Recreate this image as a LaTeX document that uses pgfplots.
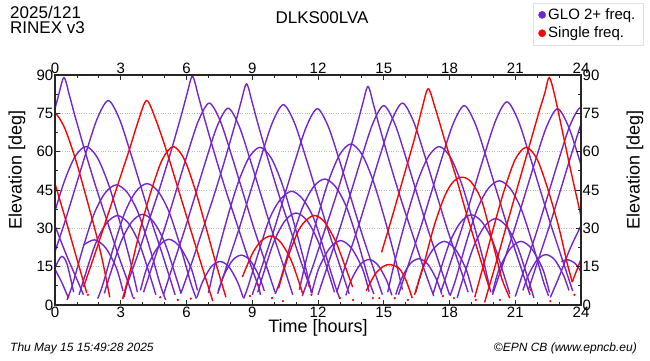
\documentclass[border=0pt]{standalone}
\usepackage{fontspec}
\setmainfont{Liberation Sans}
\usepackage{pgfplots}
\pgfplotsset{compat=1.18}
\definecolor{glo}{RGB}{114,38,205}
\definecolor{sng}{RGB}{255,0,0}
\pgfplotsset{
  gl/.style={color=glo, line width=1.4pt, smooth, forget plot},
  rd/.style={color=sng, line width=1.4pt, smooth, forget plot},
  frame/.style={at={(55pt,55pt)}, anchor=south west, width=526pt, height=230pt, scale only axis,
    xmin=0, xmax=24, ymin=0, ymax=90,
    xtick={0,3,...,24}, ytick={0,15,...,90}, minor x tick num=2, minor y tick num=1,
    tick align=inside, major tick length=5pt, minor tick length=3pt,
    axis line style={line width=1.1pt, black!85},
    tick style={line width=0.8pt, black!85},
    tick label style={font=\fontsize{15}{15}\selectfont},
    /pgf/number format/assume math mode=true,
    xticklabel style={inner sep=1.5pt}, yticklabel style={inner sep=1.5pt}}
}
\begin{document}
\begin{tikzpicture}[x=1pt,y=1pt]
\path[use as bounding box] (0,0) rectangle (650,360);
\begin{axis}[frame, ymajorgrids, grid style={dotted, gray!55, line width=0.8pt},
  legend style={at={(axis description cs:1.118,1.313)}, anchor=north east, draw=black!12, fill=white,
    font=\fontsize{15}{16}\selectfont, inner xsep=5pt, inner ysep=3pt, row sep=1pt,
    nodes={inner sep=2.5pt}},
  legend cell align=left]
\addlegendimage{only marks, mark=*, mark size=3.6pt, glo}
\addlegendentry{GLO 2+ freq.}
\addlegendimage{only marks, mark=*, mark size=3.6pt, sng}
\addlegendentry{Single freq.}
% ---------- GLO 2+ frequency passes ----------
\addplot[gl] coordinates {(-0.59,59) (-0.09,74) (0.16,82) (0.41,89) (0.66,82) (0.91,74) (1.41,59) (1.91,45) (2.41,32) (2.91,19) (3.41,7) (3.55,3)};
\addplot[gl] coordinates {(-0.94,5) (-0.59,18) (-0.09,34) (0.41,48) (0.91,58) (1.41,62) (1.91,58) (2.41,48) (2.91,34) (3.41,18) (3.76,5)};
\addplot[gl] coordinates {(-0.62,4) (-0.07,19) (0.43,32) (0.93,46) (1.43,60) (1.93,73) (2.43,80) (2.93,73) (3.43,60) (3.93,46) (4.43,32) (4.93,19) (5.48,4)};
\addplot[gl] coordinates {(0.55,2) (0.8,8) (1.3,23) (1.8,36) (2.3,44) (2.8,47) (3.3,44) (3.8,36) (4.3,23) (4.8,8) (5.05,2)};
\addplot[gl] coordinates {(1.1,4) (1.35,11) (1.85,24) (2.35,32) (2.85,35) (3.35,32) (3.85,24) (4.35,11) (4.6,4)};
\addplot[gl] coordinates {(1.3,23.5) (1.8,25.5) (2.3,22.5) (2.8,14.5) (3.1,5.5)};
\addplot[gl] coordinates {(-0.2,8) (0,14.5) (0.3,19) (0.55,16) (0.85,5)};
\addplot[gl] coordinates {(-0.2,18) (0,14) (0.3,9) (0.6,3)};
\addplot[gl] coordinates {(-0.3,38) (0,31) (0.5,20) (1.0,10) (1.3,4)};
\addplot[gl] coordinates {(1.95,2.5) (2.2,8.5) (2.7,23.5) (3.2,36.5) (3.7,44.5) (4.2,47.5) (4.7,44.5) (5.2,36.5) (5.7,23.5) (6.2,8.5) (6.45,2.5)};
\addplot[gl] coordinates {(2.25,4.5) (2.5,11.5) (3.0,24.5) (3.5,32.5) (4.0,35.5) (4.5,32.5) (5.0,24.5) (5.5,11.5) (5.75,4.5)};
\addplot[gl] coordinates {(3.9,5.7) (4.2,14.7) (4.7,22.7) (5.2,25.7) (5.7,22.7) (6.2,14.7) (6.5,5.7)};
\addplot[gl] coordinates {(3.17,3) (3.27,7.5) (3.77,19.5) (4.27,32.5) (4.77,45.5) (5.27,59.5) (5.77,74.5) (6.02,82.5) (6.27,89.5) (6.52,82.5) (6.77,74.5) (7.27,59.5) (7.77,45.5) (8.27,32.5) (8.77,19.5) (9.27,7.5) (9.37,4)};
\addplot[gl] coordinates {(4.04,5) (4.54,18) (5.04,31) (5.54,45) (6.04,59) (6.54,72) (7.04,79) (7.54,72) (8.04,59) (8.54,45) (9.04,31) (9.54,18) (10.04,5)};
\addplot[gl] coordinates {(4.95,4) (5.4,16) (5.9,29) (6.4,43) (6.9,57) (7.4,70) (7.9,77) (8.4,70) (8.9,57) (9.4,43) (9.9,29) (10.4,16) (10.85,4)};
\addplot[gl] coordinates {(6.48,3) (6.73,9) (7.13,15) (7.53,17) (7.93,15) (8.33,9) (8.58,3)};
\addplot[gl] coordinates {(5.74,4.5) (6.24,16.5) (6.74,29.5) (7.24,42.5) (7.74,56.5) (8.24,71.5) (8.49,79.5) (8.74,86.5) (8.99,79.5) (9.24,71.5) (9.74,56.5) (10.24,42.5) (10.74,29.5) (11.24,16.5) (11.74,4.5)};
\addplot[gl] coordinates {(7.42,4.4) (7.92,17.4) (8.42,30.4) (8.92,44.4) (9.42,58.4) (9.92,71.4) (10.42,78.4) (10.92,71.4) (11.42,58.4) (11.92,44.4) (12.42,30.4) (12.92,17.4) (13.42,4.4)};
\addplot[gl] coordinates {(9.0,4) (9.47,15.8) (9.97,28.8) (10.47,42.8) (10.97,56.8) (11.47,69.8) (11.97,76.8) (12.47,69.8) (12.97,56.8) (13.47,42.8) (13.97,28.8) (14.47,15.8) (14.94,4)};
\addplot[gl] coordinates {(7.0,4.7) (7.35,17.7) (7.85,33.7) (8.35,47.7) (8.85,57.7) (9.35,61.7) (9.85,57.7) (10.35,47.7) (10.85,33.7) (11.35,17.7) (11.7,4.7)};
\addplot[gl] coordinates {(8.6,2.5) (8.8,7) (9.3,21) (9.8,34) (10.3,41.5) (10.8,44.5) (11.3,41.5) (11.8,34) (12.3,21) (12.8,7) (13.0,2.5)};
\addplot[gl] coordinates {(9.25,5) (9.5,12) (10.0,25) (10.5,33) (11.0,36) (11.5,33) (12.0,25) (12.5,12) (12.75,5)};
\addplot[gl] coordinates {(7.45,5.5) (7.7,11.5) (8.1,17.5) (8.5,19.5) (8.9,17.5) (9.3,11.5) (9.55,5.5)};
\addplot[gl] coordinates {(10.05,4.3) (10.3,10.3) (10.8,25.3) (11.3,38.3) (11.8,46.3) (12.3,49.3) (12.8,46.3) (13.3,38.3) (13.8,25.3) (14.3,10.3) (14.55,4.3)};
\addplot[gl] coordinates {(11.15,6) (11.5,19) (12.0,35) (12.5,49) (13.0,59) (13.5,63) (14.0,59) (14.5,49) (15.0,35) (15.5,19) (15.85,6)};
\addplot[gl] coordinates {(11.73,5.2) (12.03,14.2) (12.53,22.2) (13.03,25.2) (13.53,22.2) (14.03,14.2) (14.33,5.2)};
\addplot[gl] coordinates {(11.28,3.5) (11.78,15.5) (12.28,28.5) (12.78,41.5) (13.28,55.5) (13.78,70.5) (14.03,78.5) (14.28,85.5) (14.53,78.5) (14.78,70.5) (15.28,55.5) (15.78,41.5) (16.28,28.5) (16.78,15.5) (17.28,3.5)};
\addplot[gl] coordinates {(12.0,4) (12.5,17) (13.0,30) (13.5,44) (14.0,58) (14.5,71) (15.0,78) (15.5,71) (16.0,58) (16.5,44) (17.0,30) (17.5,17) (18.0,4)};
\addplot[gl] coordinates {(12.85,5) (13.35,18) (13.85,31) (14.35,45) (14.85,59) (15.35,72) (15.85,79) (16.35,72) (16.85,59) (17.35,45) (17.85,31) (18.35,18) (18.85,5)};
\addplot[gl] coordinates {(13.27,3.8) (13.52,9.8) (13.92,15.8) (14.32,17.8) (14.72,15.8) (15.12,9.8) (15.37,3.8)};
\addplot[gl] coordinates {(15.67,4) (16.17,17) (16.67,30) (17.17,44) (17.67,58) (18.17,71) (18.67,78) (19.17,71) (19.67,58) (20.17,44) (20.67,30) (21.17,17) (21.67,4)};
\addplot[gl] coordinates {(17.62,5.5) (18.12,18.5) (18.62,31.5) (19.12,45.5) (19.62,59.5) (20.12,72.5) (20.62,79.5) (21.12,72.5) (21.62,59.5) (22.12,45.5) (22.62,31.5) (23.12,18.5) (23.62,5.5)};
\addplot[gl] coordinates {(15.18,5) (15.53,18) (16.03,34) (16.53,48) (17.03,58) (17.53,62) (18.03,58) (18.53,48) (19.03,34) (19.53,18) (19.88,5)};
\addplot[gl] coordinates {(18.02,3.6) (18.27,9.6) (18.77,24.6) (19.27,37.6) (19.77,45.6) (20.27,48.6) (20.77,45.6) (21.27,37.6) (21.77,24.6) (22.27,9.6) (22.52,3.6)};
\addplot[gl] coordinates {(17.25,4.3) (17.5,11.3) (18.0,24.3) (18.5,32.3) (19.0,35.3) (19.5,32.3) (20.0,24.3) (20.5,11.3) (20.75,4.3)};
\addplot[gl] coordinates {(18.35,2.8) (18.6,9.8) (19.1,22.8) (19.6,30.8) (20.1,33.8) (20.6,30.8) (21.1,22.8) (21.6,9.8) (21.85,2.8)};
\addplot[gl] coordinates {(16.46,4.9) (16.76,13.9) (17.26,21.9) (17.76,24.9) (18.26,21.9) (18.76,13.9) (19.06,4.9)};
\addplot[gl] coordinates {(15.55,4.1) (15.8,10.1) (16.2,16.1) (16.6,18.1) (17.0,16.1) (17.4,10.1) (17.65,4.1)};
\addplot[gl] coordinates {(19.96,4) (20.43,15.8) (20.93,28.8) (21.43,42.8) (21.93,56.8) (22.43,69.8) (22.93,76.8) (23.43,69.8) (23.93,56.8) (24.43,42.8) (24.93,28.8)};
\addplot[gl] coordinates {(21.0,3.3) (21.5,16.3) (22.0,29.3) (22.5,43.3) (23.0,57.3) (23.5,70.3) (24.0,77.3) (24.5,70.3)};
\addplot[gl] coordinates {(19.96,4.9) (20.26,13.9) (20.76,21.9) (21.26,24.9) (21.76,21.9) (22.26,13.9) (22.56,4.9)};
\addplot[gl] coordinates {(21.35,5.7) (21.6,11.7) (22.0,17.7) (22.4,19.7) (22.8,17.7) (23.2,11.7) (23.45,5.7)};
\addplot[gl] coordinates {(23.1,17) (23.4,17.7) (23.8,15.7) (24.2,9.7)};
\addplot[gl] coordinates {(21.6,6) (22.1,19) (22.6,32) (23.1,46) (23.6,60) (24.1,73) (24.6,80)};
\addplot[gl] coordinates {(22.6,3) (23.0,11) (23.5,22) (24.0,31) (24.5,39)};
% ---------- single frequency passes ----------
\addplot[rd] coordinates {(-0.6,69) (-0.1,75.5) (0.4,70) (0.9,58) (1.4,43) (1.9,27) (2.2,16) (2.5,3)};
\addplot[rd] coordinates {(-0.3,56) (0,47.5) (0.5,33) (1.0,18) (1.45,4.7)};
\addplot[rd] coordinates {(1.3,7) (1.9,22) (2.4,35) (2.9,48) (3.4,61) (3.8,72) (4.18,80) (4.6,72.5) (5.1,60) (5.6,46) (6.1,32) (6.6,18) (7.2,1.5)};
\addplot[rd] coordinates {(3.1,3) (3.45,14) (3.9,30) (4.4,45) (4.9,57) (5.4,62) (5.9,57) (6.4,45) (6.9,30) (7.35,16) (7.8,3)};
\addplot[rd] coordinates {(8.55,11) (9.0,20) (9.4,25) (9.85,27) (10.3,24.5) (10.8,17) (11.3,4.5)};
\addplot[rd] coordinates {(10.2,6.5) (10.6,18) (11.1,29) (11.5,33.5) (11.86,35) (12.3,32.5) (12.8,25) (13.2,16) (13.58,7)};
\addplot[rd] coordinates {(14.2,5.6) (14.6,12) (15.0,15.2) (15.3,15.8) (15.7,14.3) (16.0,10) (16.3,2.7)};
\addplot[rd] coordinates {(14.9,20.6) (15.4,35) (15.9,50) (16.4,65) (16.75,77) (17.03,84.6) (17.35,77) (17.8,64) (18.3,50) (18.8,35) (19.3,21) (19.8,7)};
\addplot[rd] coordinates {(16.4,4) (16.8,15) (17.3,31) (17.8,43) (18.2,48.5) (18.6,50) (19.0,48) (19.5,40) (20.1,20) (20.4,10) (20.75,2.7)};
\addplot[rd] coordinates {(19.15,3) (19.5,14) (20.0,30) (20.5,45) (21.0,57) (21.5,61.7) (22.0,57) (22.5,45) (23.0,30) (23.35,17) (23.6,9)};
\addplot[rd] coordinates {(19.6,1) (20.1,15.8) (20.6,31) (21.1,46) (21.6,61) (22.1,76) (22.35,83) (22.55,89) (22.8,82) (23.2,66) (23.6,50) (24.1,31)};
\addplot[rd] coordinates {(23.6,9) (24.0,18) (24.3,25)};
\addplot[only marks, mark=*, mark size=0.9pt, color=sng, forget plot] coordinates {
(0,1) (0.6,3) (1.5,4) (3.1,2.7) (3.6,2.7) (4.8,3) (5.6,2) (6.2,2.5) (8.9,3.5) (9.25,8) (9.9,2.7) (10.4,1.5)
(11.6,7.5) (11.7,4) (13.0,2.7) (13.6,2) (14.5,2.7) (14.8,2.7) (15.5,2.7) (16.1,2) (16.5,6.7) (17.7,3.5)
(18.2,2.7) (19.2,2) (20.3,2) (21.7,6) (22.6,1.5) (23.7,4)};
\end{axis}
\begin{axis}[frame, xticklabel pos=upper, yticklabel pos=right]
\addplot[draw=none, forget plot] coordinates {(0,0)};
\end{axis}
\node[rotate=90, font=\fontsize{18}{18}\selectfont] at (17,190) {Elevation [deg]};
\node[rotate=90, font=\fontsize{18}{18}\selectfont] at (635,190) {Elevation [deg]};
\node[font=\fontsize{18}{18}\selectfont] at (318,32) {Time [hours]};
\node[font=\fontsize{17}{17}\selectfont] at (322,342) {DLKS00LVA};
\node[anchor=west, font=\fontsize{17}{17}\selectfont, inner sep=0pt] at (10,348) {2025/121};
\node[anchor=west, font=\fontsize{17}{17}\selectfont, inner sep=0pt] at (10,332) {RINEX v3};
\node[anchor=west, font=\itshape\fontsize{12}{12}\selectfont, inner sep=0pt] at (10,12) {Thu May 15 15:49:28 2025};
\node[anchor=east, font=\itshape\fontsize{12}{12}\selectfont, inner sep=0pt] at (637,12) {©EPN CB (www.epncb.eu)};
\end{tikzpicture}
\end{document}
